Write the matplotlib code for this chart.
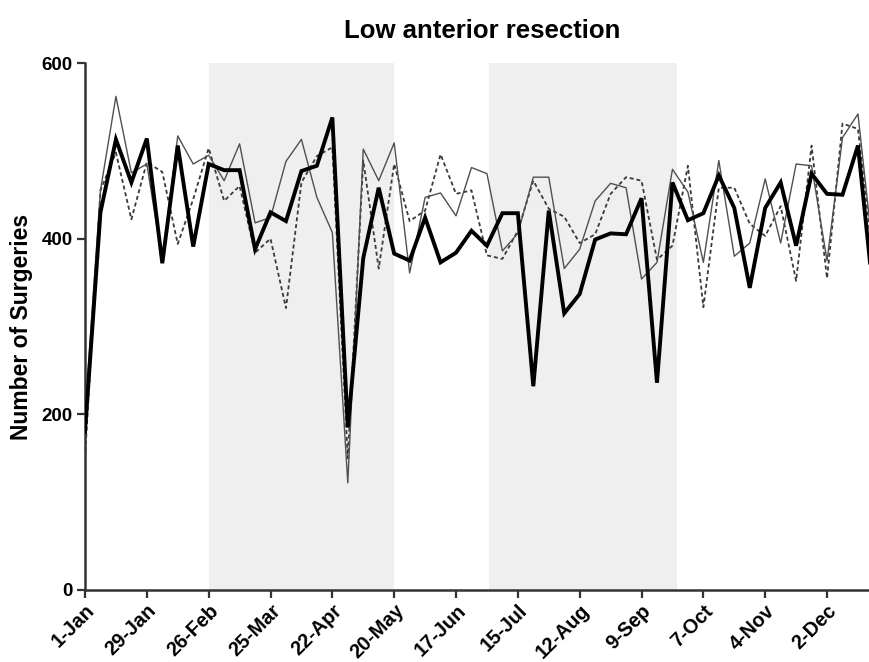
import matplotlib
matplotlib.use("Agg")
import matplotlib.pyplot as plt
import numpy as np

plt.rcParams['font.family'] = ['Liberation Sans', 'DejaVu Sans']

# Weekly values (week index 0 = 1-Jan)
thick_series = [180, 430, 513, 464, 514, 372, 506, 391, 485, 478, 478, 388, 430, 420,
                477, 483, 538, 185, 378, 458, 383, 375, 424, 373, 384, 409, 392, 429,
                429, 232, 432, 315, 337, 399, 406, 405, 446, 236, 464, 421, 429, 472,
                435, 344, 435, 464, 392, 474, 451, 450, 506, 335]
thin_series = [200, 455, 562, 475, 485, 375, 517, 485, 495, 466, 508, 418, 424, 488,
               513, 447, 407, 122, 502, 466, 509, 361, 447, 452, 426, 481, 474, 386,
               406, 470, 470, 366, 388, 443, 463, 458, 354, 373, 479, 453, 373, 489,
               380, 395, 468, 395, 485, 483, 375, 515, 542, 380]
dashed_series = [150, 455, 498, 422, 487, 476, 394, 445, 503, 443, 460, 384, 400, 321,
                 464, 494, 504, 150, 489, 366, 485, 420, 432, 496, 451, 455, 381, 377,
                 409, 466, 434, 425, 395, 405, 451, 470, 466, 376, 392, 483, 322, 458,
                 458, 417, 403, 437, 352, 506, 355, 531, 525, 370]

tick_labels = ['1-Jan', '29-Jan', '26-Feb', '25-Mar', '22-Apr', '20-May', '17-Jun',
               '15-Jul', '12-Aug', '9-Sep', '7-Oct', '4-Nov', '2-Dec']
tick_days = [0, 28, 56, 84, 112, 140, 168, 196, 224, 252, 280, 308, 336]
shaded_periods = [(56, 140), (183, 268)]

days = np.arange(len(thick_series)) * 7

fig = plt.figure(figsize=(8.69, 6.62), dpi=100)
ax = fig.add_axes([85/869, 1 - 590/662, 1 - 85/869, (590 - 63)/662])

for a, b in shaded_periods:
    ax.axvspan(a, b, color='#efefef', lw=0, zorder=0)

ax.plot(days, dashed_series, color='#3a3a3a', lw=1.3, ls=(0, (2.2, 1.6)), zorder=2)
ax.plot(days, thin_series, color='#505050', lw=1.0, zorder=3)
ax.plot(days, thick_series, color='black', lw=2.8, zorder=4, solid_joinstyle='miter')

ax.set_xlim(0, 355)
ax.set_ylim(0, 600)
ax.set_yticks([0, 200, 400, 600])
ax.set_xticks(tick_days)
ax.set_xticklabels(tick_labels, rotation=45, ha='right', rotation_mode='anchor',
                   fontsize=14.3, fontweight='bold')
for lab in ax.get_yticklabels():
    lab.set_fontsize(13.5)
    lab.set_fontweight('bold')

for s in ['top', 'right']:
    ax.spines[s].set_visible(False)
for s in ['left', 'bottom']:
    ax.spines[s].set_linewidth(1.8)
    ax.spines[s].set_color('#333333')
ax.tick_params(axis='both', length=6, width=1.6, color='#333333', pad=3)
ax.tick_params(axis='x', pad=2)

ax.set_ylabel('Number of Surgeries', fontsize=16.5, fontweight='bold', labelpad=6)
fig.text(482/869, 1 - 31/662, 'Low anterior resection', ha='center', va='center',
         fontsize=18.5, fontweight='bold')

fig.savefig('out.png', dpi=100)
